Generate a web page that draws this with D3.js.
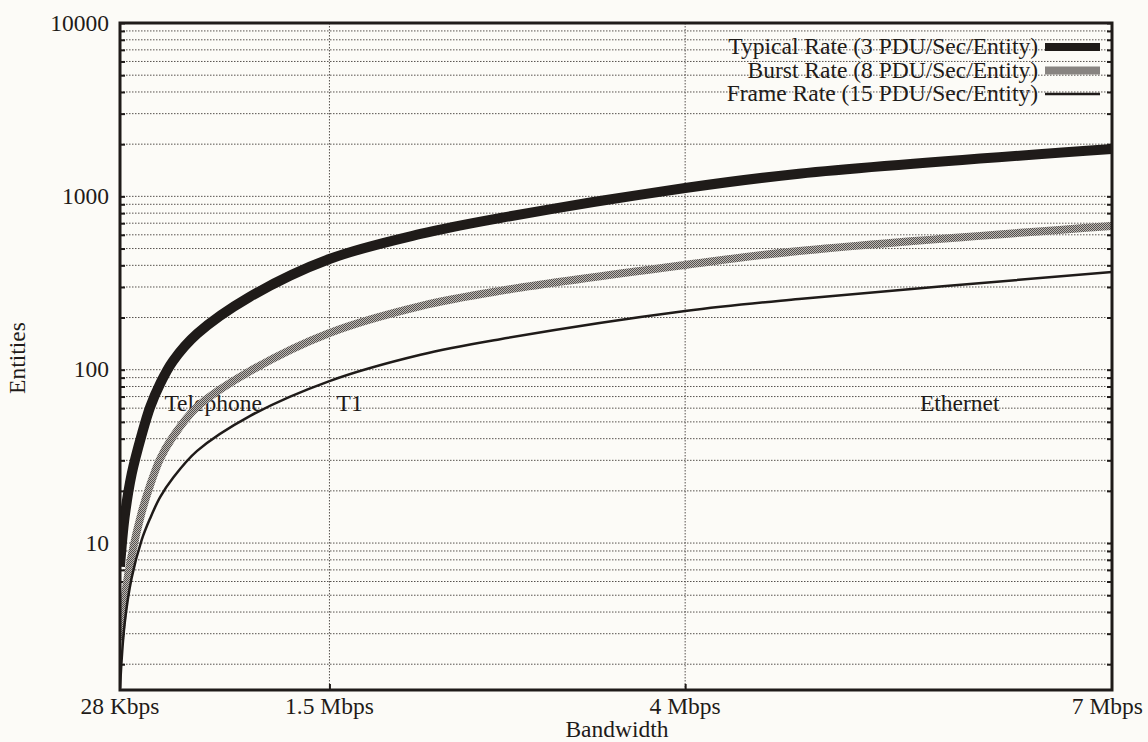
<!DOCTYPE html>
<html>
<head>
<meta charset="utf-8">
<script src="https://cdnjs.cloudflare.com/ajax/libs/d3/7.8.5/d3.min.js"></script>
<style>
body { margin: 0; background: #fcfbf7; }
svg { display: block; font-family: "Liberation Serif", "DejaVu Serif", serif; }
</style>
</head>
<body>
<div id="chart"></div>
<script>
// bandwidth samples, Mbps
var bandwidth   = [0.028, 0.06, 0.11, 0.18, 0.24, 0.31, 0.4, 0.57, 0.94, 1.5, 2.14, 2.7, 4.0, 4.8, 7.0];
// entities supported at each bandwidth
var typicalRate = [7.3, 14, 25, 42, 61, 83, 112, 161, 263, 435, 607, 750, 1117, 1350, 1875];
var burstRate   = [2.75, 4.8, 8.5, 15, 21.6, 30.6, 41, 61, 98, 163, 233, 285, 402, 484, 675];
var frameRate   = [1.46, 3.4, 6.3, 10.4, 13.9, 18.4, 23.7, 34, 54, 86, 122, 150, 218, 256, 366];

var seriesNames = ["Typical Rate (3 PDU/Sec/Entity)", "Burst Rate (8 PDU/Sec/Entity)", "Frame Rate (15 PDU/Sec/Entity)"];
var xTicks = [0.028, 1.5, 4, 7];
var xTickLabels = ["28 Kbps", "1.5 Mbps", "4 Mbps", "7 Mbps"];
var yTicks = [10, 100, 1000, 10000];
var gridBandwidth = [1.5, 4];
var regionNames = ["Telephone", "T1", "Ethernet"];

(function(){
    var w = 1148, h = 742;
    var pLeft = 120, pRight = 1112, pTop = 23, pBottom = 690;
    var fontSize = "23.5px";
    var ink = "#1f1b19";

    var svg = d3.select("#chart").append("svg")
        .attr("width", w)
        .attr("height", h);

    // grainy grey used by the burst curve (1px checker)
    var pat = svg.append("defs").append("pattern")
        .attr("id", "stipple")
        .attr("patternUnits", "userSpaceOnUse")
        .attr("width", 2).attr("height", 2);
    pat.append("rect").attr("width", 2).attr("height", 2).style("fill", "#bcb8b4");
    [[0, 0], [1, 1]].forEach(function(p){
        pat.append("rect").attr("x", p[0]).attr("y", p[1])
            .attr("width", 1).attr("height", 1).style("fill", "#55514e");
    });

    var x = d3.scaleLinear().domain([0.028, 7]).range([pLeft, pRight]);
    var y = d3.scaleLog().domain([1.42, 10000]).range([pBottom, pTop]);

    //_horizontal dotted grid at every log step
    var grid = svg.append("g").attr("class", "grid");
    grid.selectAll("line.h")
        .data(y.ticks().filter(function(d){ return d > 1.42 && d < 10000; }))
        .enter().append("line")
        .attr("class", "h")
        .attr("x1", pLeft).attr("x2", pRight)
        .attr("y1", function(d){ return y(d); })
        .attr("y2", function(d){ return y(d); })
        .style("stroke", "#57524e")
        .style("stroke-width", 1)
        .style("stroke-dasharray", "1.5,1.5");

    grid.selectAll("line.v")
        .data(gridBandwidth)
        .enter().append("line")
        .attr("class", "v")
        .attr("x1", function(d){ return x(d); })
        .attr("x2", function(d){ return x(d); })
        .attr("y1", pTop).attr("y2", pBottom)
        .style("stroke", "#57524e")
        .style("stroke-width", 1)
        .style("stroke-dasharray", "1.5,1.5");

    //_axes, ticks pointing inwards
    var yLeft = d3.axisRight(y).tickValues(y.ticks()).tickSize(5).tickFormat("");
    var yRight = d3.axisLeft(y).tickValues(y.ticks()).tickSize(5).tickFormat("");
    var xBottom = d3.axisTop(x).tickValues(gridBandwidth).tickSize(6).tickFormat("");

    svg.append("g").attr("transform", "translate(" + pLeft + ",0)").call(yLeft);
    svg.append("g").attr("transform", "translate(" + pRight + ",0)").call(yRight);
    svg.append("g").attr("transform", "translate(0," + pBottom + ")").call(xBottom);
    svg.selectAll(".domain").remove();
    svg.selectAll(".tick line").style("stroke", ink).style("stroke-width", 2);

    // tick labels
    svg.append("g").selectAll("text")
        .data(yTicks)
        .enter().append("text")
        .attr("x", 109)
        .attr("y", function(d){ return y(d); })
        .attr("dy", "0.33em")
        .attr("text-anchor", "end")
        .style("font-size", fontSize)
        .style("fill", ink)
        .text(function(d){ return d; });

    var xl = svg.append("g").selectAll("text")
        .data(xTicks)
        .enter().append("text")
        .attr("x", function(d){ return x(d); })
        .attr("y", 714)
        .attr("text-anchor", "middle")
        .style("font-size", fontSize)
        .style("fill", ink)
        .text(function(d, i){ return xTickLabels[i]; });
    // keep the last label inside the page
    xl.each(function(){
        var len = this.getComputedTextLength();
        var cx = +d3.select(this).attr("x");
        if (cx + len / 2 > w - 5) d3.select(this).attr("x", w - 5 - len / 2);
    });

    svg.append("text")
        .attr("x", 617).attr("y", 737)
        .attr("text-anchor", "middle")
        .style("font-size", fontSize)
        .style("fill", ink)
        .text("Bandwidth");

    svg.append("text")
        .attr("transform", "translate(25,358) rotate(-90)")
        .attr("text-anchor", "middle")
        .style("font-size", fontSize)
        .style("fill", ink)
        .text("Entities");

    //_region labels (drawn first, the curves run over them)
    var regionX = [0.34, 1.55, 5.65];
    svg.append("g").selectAll("text")
        .data(regionNames)
        .enter().append("text")
        .attr("x", function(d, i){ return x(regionX[i]); })
        .attr("y", y(58))
        .style("font-size", fontSize)
        .style("fill", ink)
        .text(function(d){ return d; });

    //_curves
    var series = [
        { name: seriesNames[0], values: typicalRate, color: "#1f1b19", width: 10 },
        { name: seriesNames[1], values: burstRate, color: "url(#stipple)", width: 8 },
        { name: seriesNames[2], values: frameRate, color: "#1f1b19", width: 2.5 }
    ];

    var line = d3.line()
        .x(function(d){ return x(d[0]); })
        .y(function(d){ return y(d[1]); })
        .curve(d3.curveCatmullRom.alpha(0.5));

    svg.append("clipPath").attr("id", "plot")
        .append("rect")
        .attr("x", pLeft).attr("y", pTop)
        .attr("width", pRight - pLeft).attr("height", pBottom - pTop);

    svg.append("g").attr("clip-path", "url(#plot)")
        .selectAll("path")
        .data(series)
        .enter().append("path")
        .attr("d", function(s){ return line(bandwidth.map(function(b, i){ return [b, s.values[i]]; })); })
        .style("fill", "none")
        .style("stroke", function(s){ return s.color; })
        .style("stroke-width", function(s){ return s.width; });

    //_legend
    var legend = svg.append("g").selectAll("g")
        .data(series)
        .enter().append("g")
        .attr("transform", function(d, i){ return "translate(0," + (54 + i * 23.5) + ")"; });

    legend.append("text")
        .attr("x", 1038)
        .attr("text-anchor", "end")
        .style("font-size", fontSize)
        .style("fill", ink)
        .text(function(d){ return d.name; });

    legend.append("line")
        .attr("x1", 1045).attr("x2", 1100)
        .attr("y1", -7).attr("y2", -7)
        .style("stroke", function(d){ return d.color; })
        .style("stroke-width", function(d){ return Math.min(d.width, 8); });

    //_frame
    svg.append("rect")
        .attr("x", pLeft).attr("y", pTop)
        .attr("width", pRight - pLeft).attr("height", pBottom - pTop)
        .style("fill", "none")
        .style("stroke", ink)
        .style("stroke-width", 3);
})();
</script>
</body>
</html>
